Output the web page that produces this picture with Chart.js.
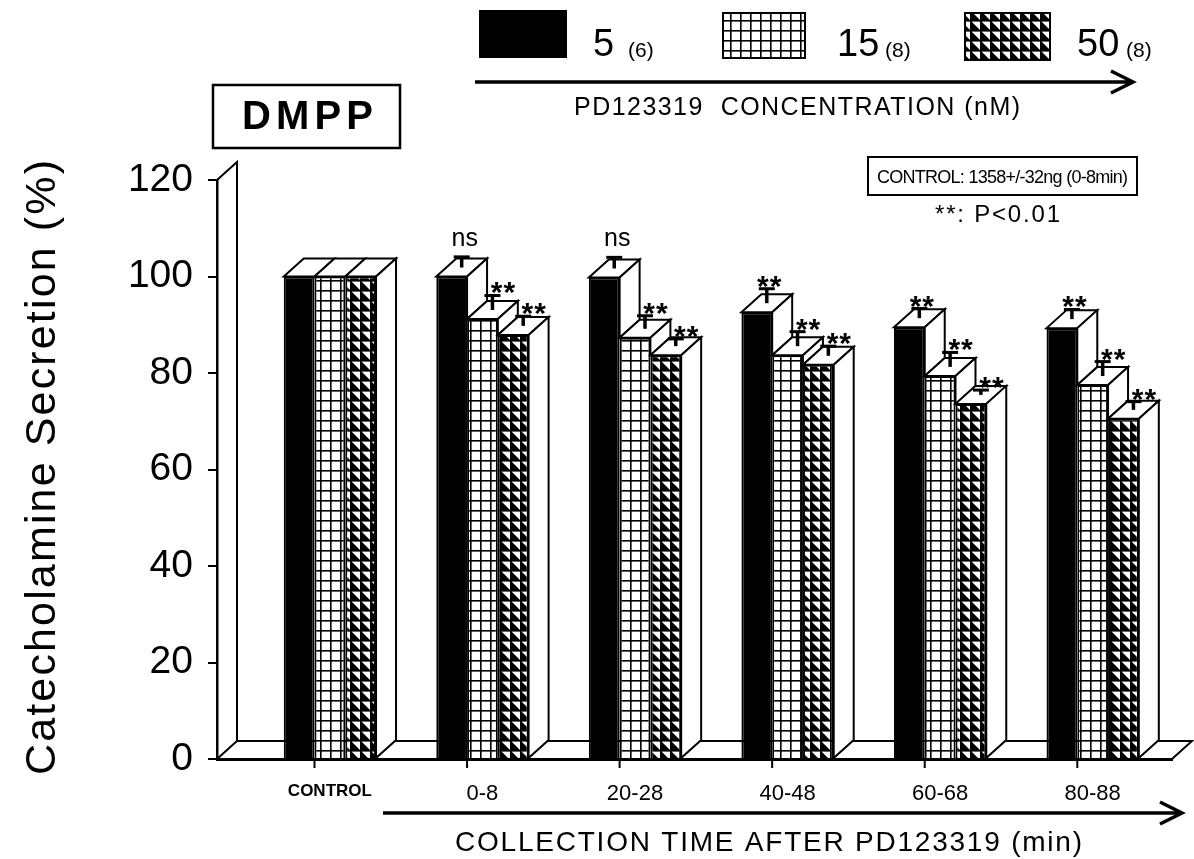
<!DOCTYPE html>
<html>
<head>
<meta charset="utf-8">
<title>DMPP / PD123319</title>
<script src="https://cdn.jsdelivr.net/npm/chart.js@4.4.1/dist/chart.umd.min.js"></script>
<style>
  html, body { margin: 0; padding: 0; background: #fff; }
  #wrap { width: 1194px; height: 859px; position: relative; }
</style>
</head>
<body>
<div id="wrap"><canvas id="chart"></canvas></div>
<script>
// values (% of control)
let categories = ["CONTROL", "0-8", "20-28", "40-48", "60-68", "80-88"];
let dose5 = [100, 100, 99.8, 92.6, 89.5, 89.3];
let dose15 = [100, 91.2, 87.3, 83.7, 79.4, 77.5];
let dose50 = [100, 87.9, 83.7, 81.7, 73.6, 70.5];
let err5 = [null, 2.2, 2.3, 3, 2, 2];
let err15 = [null, 3, 2.7, 3, 3, 3];
let err50 = [null, 2, 1.5, 2, 1, 1.7];
let sig5 = ["", "ns", "ns", "**", "**", "**"];
let sig15 = ["", "**", "**", "**", "**", "**"];
let sig50 = ["", "**", "**", "**", "**", "**"];
let doseLabels = ["5", "15", "50"];
let doseN = ["(6)", "(8)", "(8)"];
let yTicks = [0, 20, 40, 60, 80, 100, 120];

const FONT = "'Liberation Sans', Arial, Helvetica, sans-serif";
const DX = 20, DY = 18; // depth of the 3d boxes

// fill patterns
function makePattern(withTriangle) {
  let c = document.createElement("canvas");
  c.width = 10; c.height = 10;
  let g = c.getContext("2d");
  g.fillStyle = "#fff";
  g.fillRect(0, 0, 10, 10);
  g.fillStyle = "#000";
  if (withTriangle) {
    g.beginPath();
    g.moveTo(0, 0); g.lineTo(10, 10); g.lineTo(0, 10);
    g.closePath();
    g.fill();
  }
  g.fillRect(0, 0, 10, 1.6);
  g.fillRect(0, 0, 1.6, 10);
  return g.createPattern(c, "repeat");
}
let gridPattern = makePattern(false);
let triPattern = makePattern(true);

function poly(ctx, pts) {
  ctx.beginPath();
  ctx.moveTo(pts[0][0], pts[0][1]);
  for (let k = 1; k < pts.length; k++) ctx.lineTo(pts[k][0], pts[k][1]);
  ctx.closePath();
  ctx.fill();
  ctx.stroke();
}

// text stretched to a given width (old typeset look)
function fitText(ctx, text, left, baseline, font, width) {
  ctx.font = font;
  ctx.letterSpacing = "0px";
  ctx.textAlign = "left";
  ctx.textBaseline = "alphabetic";
  let w = ctx.measureText(text).width;
  if (width) ctx.letterSpacing = ((width - w) / (text.length - 1)) + "px";
  ctx.fillText(text, left, baseline);
  ctx.letterSpacing = "0px";
}

function arrow(ctx, x0, x1, y) {
  ctx.lineWidth = 3.5;
  ctx.beginPath();
  ctx.moveTo(x0, y); ctx.lineTo(x1, y);
  ctx.moveTo(x1 - 22, y - 11); ctx.lineTo(x1, y); ctx.lineTo(x1 - 22, y + 11);
  ctx.stroke();
}

const box3d = {
  id: "box3d",
  beforeDatasetsDraw(chart) {
    // floor and left wall
    let ctx = chart.ctx, a = chart.chartArea;
    ctx.save();
    ctx.strokeStyle = "#000";
    ctx.lineWidth = 2;
    ctx.beginPath();
    ctx.moveTo(a.left, a.top);
    ctx.lineTo(a.left + DX, a.top - DY);
    ctx.lineTo(a.left + DX, a.bottom - DY);
    ctx.lineTo(a.right + DX, a.bottom - DY);
    ctx.lineTo(a.right, a.bottom);
    ctx.moveTo(a.left, a.bottom);
    ctx.lineTo(a.left + DX, a.bottom - DY);
    ctx.stroke();
    ctx.restore();
  },
  afterDatasetsDraw(chart) {
    let ctx = chart.ctx, ys = chart.scales.y;
    let metas = [0, 1, 2].map(i => chart.getDatasetMeta(i));
    let errs = [err5, err15, err50];
    let sigs = [sig5, sig15, sig50];
    let sigShift = [3, 11, 11];
    ctx.save();
    ctx.strokeStyle = "#000";
    ctx.fillStyle = "#fff";
    ctx.lineWidth = 2;
    for (let j = 0; j < categories.length; j++) {
      for (let i = 0; i < 3; i++) {
        let b = metas[i].data[j];
        let x0 = b.x - b.width / 2, x1 = b.x + b.width / 2;
        let yT = b.y, yB = b.base;
        ctx.fillStyle = "#fff";
        poly(ctx, [[x0, yT], [x1, yT], [x1 + DX, yT - DY], [x0 + DX, yT - DY]]);
        let next = metas[i + 1] ? metas[i + 1].data[j] : null;
        let yEnd = next ? next.y : yB;
        if (yEnd > yT + 0.5) {
          poly(ctx, [[x1, yT], [x1 + DX, yT - DY], [x1 + DX, yEnd - DY], [x1, yEnd]]);
        }
      }
      // tick mark at the end of the first bar
      let b0 = metas[0].data[j];
      ctx.lineWidth = 2;
      ctx.beginPath();
      ctx.moveTo(b0.x + b0.width / 2, chart.chartArea.bottom);
      ctx.lineTo(b0.x + b0.width / 2, chart.chartArea.bottom + 9);
      ctx.stroke();
    }
    // error bars + significance
    ctx.fillStyle = "#000";
    for (let i = 0; i < 3; i++) {
      for (let j = 0; j < categories.length; j++) {
        let e = errs[i][j];
        if (e == null) continue;
        let b = metas[i].data[j];
        let v = chart.data.datasets[i].data[j].y;
        let cx = b.x + DX / 2;
        let yBar = b.y - DY / 2;
        let yCap = ys.getPixelForValue(v + e) - DY / 2;
        ctx.lineWidth = 3.5;
        ctx.beginPath();
        ctx.moveTo(cx, yBar); ctx.lineTo(cx, yCap);
        ctx.stroke();
        ctx.lineWidth = 3;
        ctx.beginPath();
        ctx.moveTo(cx - 8, yCap); ctx.lineTo(cx + 8, yCap);
        ctx.stroke();
        let s = sigs[i][j];
        ctx.textAlign = "center";
        ctx.textBaseline = "alphabetic";
        if (s === "ns") {
          ctx.font = "25px " + FONT;
          ctx.fillText(s, cx + sigShift[i], yCap - 11);
        } else if (s) {
          ctx.font = "bold 30px " + FONT;
          ctx.letterSpacing = "1px";
          ctx.fillText(s, cx + sigShift[i], yCap + 7);
          ctx.letterSpacing = "0px";
        }
      }
    }
    ctx.restore();
  },
  afterDraw(chart) {
    let ctx = chart.ctx;
    ctx.save();
    ctx.fillStyle = "#000";
    ctx.strokeStyle = "#000";

    // legend
    let fills = chart.data.datasets.map(d => d.backgroundColor);
    let boxes = [[480, 11, 86, 46], [723, 13, 82, 45], [965, 13, 85, 47]];
    let bigX = [593, 837, 1077];
    let smallX = [628, 885, 1126];
    for (let i = 0; i < 3; i++) {
      let [x, y, w, h] = boxes[i];
      ctx.fillStyle = fills[i];
      ctx.lineWidth = 2;
      ctx.fillRect(x, y, w, h);
      ctx.strokeRect(x, y, w, h);
      ctx.fillStyle = "#000";
      ctx.font = "38px " + FONT;
      ctx.textAlign = "left";
      ctx.textBaseline = "alphabetic";
      ctx.fillText(doseLabels[i], bigX[i], 56);
      ctx.font = "21px " + FONT;
      ctx.fillText(doseN[i], smallX[i], 57);
    }
    arrow(ctx, 475, 1133, 82);
    fitText(ctx, "PD123319  CONCENTRATION (nM)", 574, 115, "25px " + FONT, 446);

    // DMPP box
    ctx.lineWidth = 2.5;
    ctx.strokeRect(213, 85, 187, 63);
    fitText(ctx, "DMPP", 242, 129, "bold 40px " + FONT, 131);

    // control box
    ctx.lineWidth = 2;
    ctx.strokeRect(868, 157, 269, 38);
    fitText(ctx, "CONTROL: 1358+/-32ng (0-8min)", 877, 183, "18px " + FONT, 251);
    fitText(ctx, "**: P<0.01", 935, 222, "24px " + FONT, 125);

    // x axis arrow and title
    arrow(ctx, 383, 1182, 813);
    fitText(ctx, "COLLECTION TIME AFTER PD123319 (min)", 455, 851, "28px " + FONT, 627);

    // y title
    ctx.translate(55, 775);
    ctx.rotate(-Math.PI / 2);
    fitText(ctx, "Catecholamine Secretion (%)", 0, 0, "43px " + FONT, 615);
    ctx.restore();
  }
};

Chart.defaults.font.family = FONT;
Chart.defaults.color = "#000";

let chart = new Chart(document.getElementById("chart"), {
  type: "bar",
  data: {
    datasets: [
      { label: doseLabels[0], data: dose5.map((v, i) => ({ x: i, y: v })), backgroundColor: "#000" },
      { label: doseLabels[1], data: dose15.map((v, i) => ({ x: i, y: v })), backgroundColor: gridPattern },
      { label: doseLabels[2], data: dose50.map((v, i) => ({ x: i, y: v })), backgroundColor: triPattern }
    ]
  },
  options: {
    responsive: true,
    maintainAspectRatio: false,
    animation: false,
    layout: { padding: { left: 0, right: 22, top: 180, bottom: 0 } },
    plugins: { legend: { display: false }, tooltip: { enabled: false } },
    datasets: {
      bar: {
        categoryPercentage: 0.605,
        barPercentage: 1,
        borderColor: "#000",
        borderWidth: 2,
        borderSkipped: "start"
      }
    },
    scales: {
      x: {
        type: "linear",
        min: -0.74,
        max: 5.52,
        offset: false,
        z: 1,
        afterBuildTicks: s => { s.ticks = categories.map((c, i) => ({ value: i })); },
        afterFit: s => { s.height = 100; },
        grid: { display: false, drawTicks: false },
        border: { display: true, color: "#000", width: 3 },
        ticks: {
          autoSkip: false,
          maxRotation: 0,
          padding: 22,
          color: "#000",
          callback: v => categories[v] ?? "",
          font: c => c.index === 0
            ? { family: FONT, size: 17, weight: "bold" }
            : { family: FONT, size: 22 }
        }
      },
      y: {
        min: 0,
        max: 120,
        afterBuildTicks: s => { s.ticks = yTicks.map(v => ({ value: v })); },
        afterFit: s => { s.width = 217; },
        grid: { drawOnChartArea: false, tickLength: 9, color: "#000", lineWidth: 2 },
        border: { color: "#000", width: 2.5 },
        ticks: { padding: 15, color: "#000", font: { family: FONT, size: 39 } }
      }
    }
  },
  plugins: [box3d]
});
</script>
</body>
</html>
